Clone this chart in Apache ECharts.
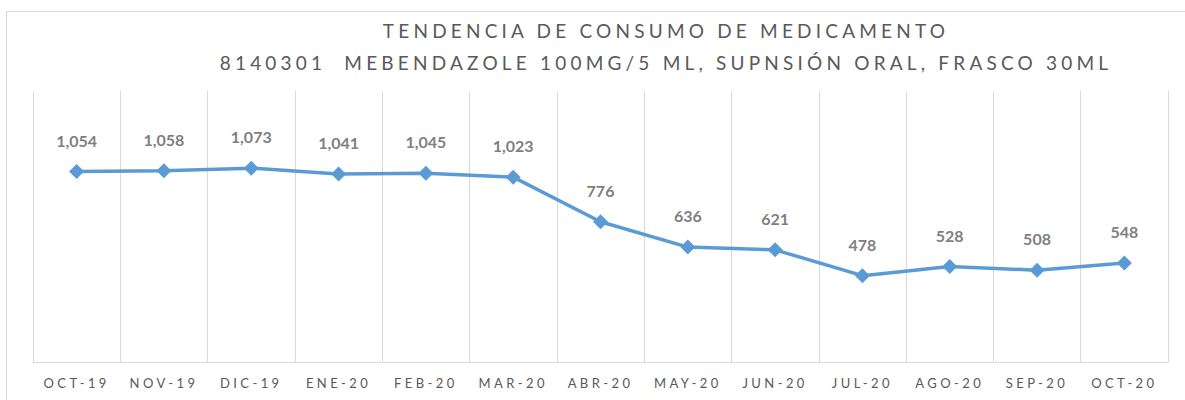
<!DOCTYPE html>
<html>
<head>
<meta charset="utf-8">
<script src="https://cdn.jsdelivr.net/npm/echarts@6/dist/echarts.min.js"></script>
<style>
  html, body { margin: 0; padding: 0; background: #fff; }
  #chart { width: 1185px; height: 400px; }
  /* spaced-out caps like the original */
  #chart text[style*="19px"] { letter-spacing: 4.2px; }
  #chart text[style*="13px"] { letter-spacing: 3.4px; }
</style>
</head>
<body>
<div id="chart"></div>
<script>
var months = ["OCT-19", "NOV-19", "DIC-19", "ENE-20", "FEB-20", "MAR-20", "ABR-20",
  "MAY-20", "JUN-20", "JUL-20", "AGO-20", "SEP-20", "OCT-20"];
var consumo = [1054, 1058, 1073, 1041, 1045, 1023, 776, 636, 621, 478, 528, 508, 548];
var titulo = "TENDENCIA DE CONSUMO DE MEDICAMENTO\n8140301  MEBENDAZOLE 100MG/5 ML, SUPNSIÓN ORAL, FRASCO 30ML";

var chart = echarts.init(document.getElementById("chart"), null, { renderer: "svg" });
chart.setOption({
  animation: false,
  graphic: [{
    type: "rect",
    shape: { x: 6.5, y: 11.5, width: 1200, height: 420 },
    style: { fill: "none", stroke: "#d9d9d9", lineWidth: 1 },
    silent: true
  }],
  title: {
    text: titulo,
    left: 661,
    top: 9,
    textAlign: "center",
    textStyle: {
      fontFamily: "Lato",
      fontSize: 19,
      fontWeight: "normal",
      color: "#595959",
      lineHeight: 32
    }
  },
  grid: { left: 33, right: 17, top: 91, bottom: 38 },
  xAxis: {
    type: "category",
    data: months,
    boundaryGap: true,
    axisLine: { lineStyle: { color: "#d9d9d9", width: 1 } },
    axisTick: { show: false },
    axisLabel: {
      color: "#595959",
      fontFamily: "Lato",
      fontSize: 13,
      margin: 14,
      interval: 0
    },
    splitLine: { show: true, interval: 0, lineStyle: { color: "#d9d9d9", width: 1 } }
  },
  yAxis: {
    type: "value",
    min: 0,
    max: 1500,
    show: false,
    splitLine: { show: false }
  },
  series: [{
    type: "line",
    data: consumo,
    symbol: "diamond",
    symbolSize: 15,
    lineStyle: { color: "#5b9bd5", width: 3.5 },
    itemStyle: { color: "#5b9bd5" },
    label: {
      show: true,
      position: "top",
      distance: 16,
      color: "#7f7f7f",
      fontFamily: "Lato",
      fontWeight: "bold",
      fontSize: 16,
      formatter: function (p) {
        return p.value.toLocaleString("en-US");
      }
    }
  }]
});
</script>
</body>
</html>
